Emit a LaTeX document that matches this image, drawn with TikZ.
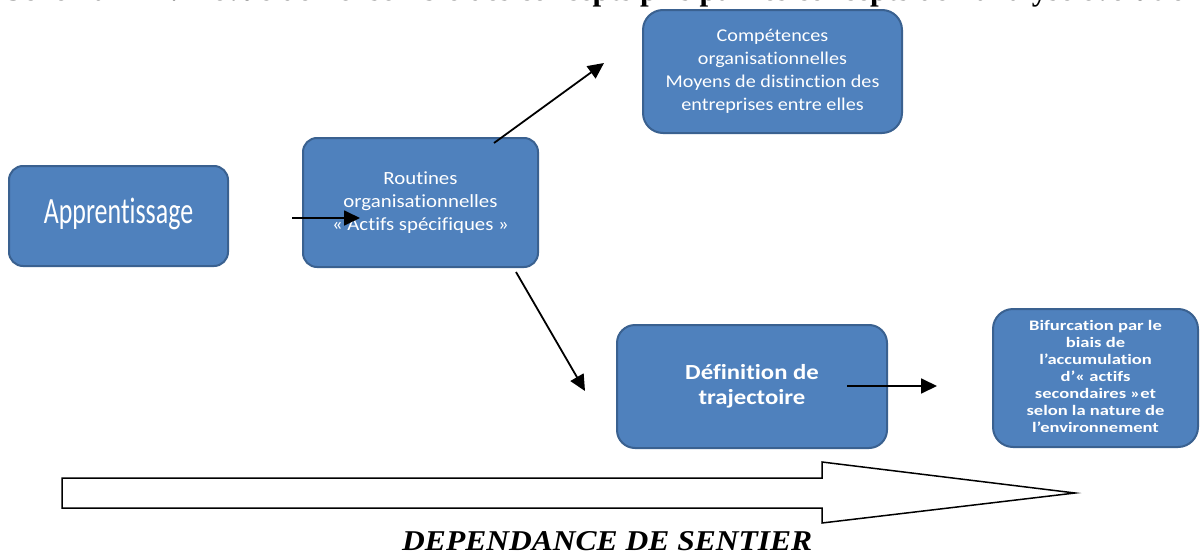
\documentclass[tikz,border=0pt]{standalone}
\usepackage{graphicx}
\usepackage{fontspec}
\setmainfont{Carlito}[Ligatures=NoCommon]
\newfontfamily\tnr{Liberation Serif}
\usetikzlibrary{arrows.meta}
\definecolor{boxfill}{HTML}{4F81BD}
\definecolor{boxline}{HTML}{3A6190}
\tikzset{
  box/.style={draw=boxline, line width=2pt, fill=boxfill, rounded corners=14pt,
    inner sep=0pt, text=white, align=center},
  conn/.style={line width=1.8pt, -{Triangle[length=16pt,width=15pt]}},
  bigarrow/.style={draw=black, line width=1.5pt, fill=white},
}
\newcommand{\boxtext}[4]{\fontsize{#1}{#2}\selectfont\scalebox{#3}[1]{\begin{tabular}{@{}c@{}}#4\end{tabular}}}
\begin{document}
\begin{tikzpicture}[x=1pt,y=-1pt]
\useasboundingbox (0,0) rectangle (1200,554);
\fill[white] (0,0) rectangle (1200,554);

% clipped title
\node[anchor=base west, inner sep=0pt] (title) at (5,0)
  {\fontsize{31}{31}\selectfont\tnr\bfseries Schéma n°1 : Revue de l’ensemble des concepts pris par les concepts de l’analyse évolutionniste basée};

% boxes
\node[box, minimum width=219pt, minimum height=100pt] (app) at (118.5,216)
  {\boxtext{37}{37}{0.70}{Apprentissage}};
\node[box, minimum width=235pt, minimum height=129pt] (rout) at (420.5,202.5)
  {\boxtext{18.6}{23}{1.12}{Routines\\organisationnelles\\« Actifs spécifiques »}};
\node[box, minimum width=259pt, minimum height=123pt, rounded corners=20pt] (comp) at (772.5,71.5)
  {\boxtext{18}{23}{1.12}{Compétences\\organisationnelles\\Moyens de distinction des\\entreprises entre elles}};
\node[box, minimum width=270pt, minimum height=123pt, rounded corners=18pt] (def) at (752,386.5)
  {\boxtext{21.5}{25}{1.15}{\bfseries Définition de\\\bfseries trajectoire}};
\node[box, minimum width=205pt, minimum height=138pt, rounded corners=20pt] (bif) at (1095.5,378)
  {\boxtext{14.5}{17}{1.28}{\bfseries Bifurcation par le\\\bfseries biais de\\\bfseries l’accumulation\\\bfseries d’« actifs\\\bfseries secondaires »et\\\bfseries selon la nature de\\\bfseries l’environnement}};

% connectors
\coordinate (a1s) at (292,218); \coordinate (a1e) at (360,218);
\coordinate (a2s) at (494,143); \coordinate (a2e) at (604,63);
\coordinate (a3s) at (516,272); \coordinate (a3e) at (585,391);
\coordinate (a4s) at (847,386); \coordinate (a4e) at (937,386);
\draw[conn] (a1s) -- (a1e);
\draw[conn] (a2s) -- (a2e);
\draw[conn] (a3s) -- (a3e);
\draw[conn] (a4s) -- (a4e);

% big hollow arrow
\draw[bigarrow] (62,478) -- (822,478) -- (822,462) -- (1075,493) -- (822,523) -- (822,508) -- (62,508) -- cycle;

\node[anchor=base west, inner sep=0pt] (dep) at (402,550)
  {\resizebox{410pt}{19pt}{\tnr\bfseries\itshape DEPENDANCE DE SENTIER}};
\end{tikzpicture}
\end{document}
